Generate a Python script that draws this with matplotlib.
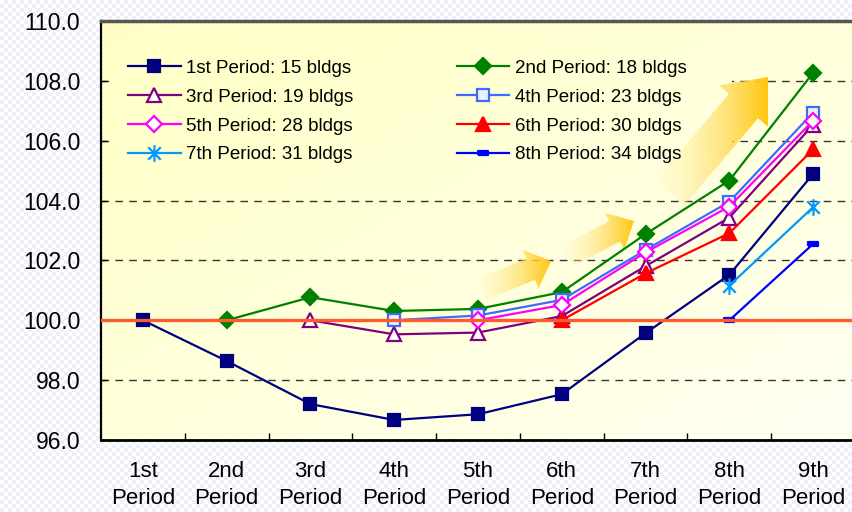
import numpy as np
import matplotlib
matplotlib.use("Agg")
import matplotlib.pyplot as plt
from matplotlib.patches import Polygon, Rectangle
from matplotlib.path import Path

plt.rcParams.update({
    "font.family": ["Liberation Sans", "DejaVu Sans"],
    "font.size": 16,
})

nan = np.nan
periods = ["1st", "2nd", "3rd", "4th", "5th", "6th", "7th", "8th", "9th"]
period_labels = [p + "\nPeriod" for p in periods]

# index values per construction period, 100 = first year of each group
p1 = [100.0, 98.64, 97.20, 96.67, 96.86, 97.53, 99.57, 101.52, 104.89]
p2 = [nan, 100.0, 100.77, 100.31, 100.38, 100.94, 102.88, 104.67, 108.27]
p3 = [nan, nan, 100.0, 99.53, 99.59, 100.14, 101.81, 103.43, 106.53]
p4 = [nan, nan, nan, 100.0, 100.16, 100.68, 102.35, 103.96, 106.94]
p5 = [nan, nan, nan, nan, 100.0, 100.51, 102.27, 103.80, 106.67]
p6 = [nan, nan, nan, nan, nan, 100.0, 101.57, 102.91, 105.71]
p7 = [nan, nan, nan, nan, nan, nan, nan, 101.16, 103.78]
p8 = [nan, nan, nan, nan, nan, nan, nan, 100.0, 102.55]

names = ["1st Period: 15 bldgs", "2nd Period: 18 bldgs", "3rd Period: 19 bldgs",
         "4th Period: 23 bldgs", "5th Period: 28 bldgs", "6th Period: 30 bldgs",
         "7th Period: 31 bldgs", "8th Period: 34 bldgs"]

star = Path([(0, -1), (0, 1), (-0.75, -0.75), (0.75, 0.75), (-0.75, 0.75), (0.75, -0.75)],
            [Path.MOVETO, Path.LINETO, Path.MOVETO, Path.LINETO, Path.MOVETO, Path.LINETO])
dash = Path([(-1, -0.45), (1, -0.45), (1, 0.45), (-1, 0.45), (-1, -0.45)])

styles = [
    dict(color="#000080", marker="s", ms=8, mfc="#000080"),
    dict(color="#008000", marker="D", ms=8.5, mfc="#008000"),
    dict(color="#800080", marker="^", ms=10, mfc="white"),
    dict(color="#3D6BFF", marker="s", ms=8.5, mfc="#EAF2FF"),
    dict(color="#FF00FF", marker="D", ms=8.5, mfc="white"),
    dict(color="#FF0000", marker="^", ms=10, mfc="#FF0000"),
    dict(color="#0099FF", marker=star, ms=12, mfc="none"),
    dict(color="#0000FF", marker=dash, ms=7, mfc="#0000FF"),
]
series = [p1, p2, p3, p4, p5, p6, p7, p8]

W, H = 852, 512
fig = plt.figure(figsize=(W / 100, H / 100), dpi=100)

# faint checkered page background
bg = fig.add_axes([0, 0, 1, 1], zorder=-10)
yy, xx = np.mgrid[0:H // 4, 0:W // 4]
chk = ((xx + yy) % 2)[..., None] * (np.array([0.94, 0.94, 0.98]) - 1) + 1
bg.imshow(chk, extent=(0, 1, 0, 1), aspect="auto", interpolation="nearest")
bg.axis("off")

ax = fig.add_axes([101 / W, (H - 440) / H, 754 / W, 419 / H])
ax.set_facecolor("none")

# pale yellow diagonal gradient for the plot area
gy, gx = np.mgrid[0:1:100j, 0:1:160j]
t = (gx + gy) / 2
top = np.array([1.0, 1.0, 0.77])
bot = np.array([1.0, 1.0, 0.95])
grad = top * (1 - t[..., None]) + bot * t[..., None]
ext = (-0.5, 8.5, 96, 110)
ax.imshow(grad, extent=ext, origin="upper", aspect="auto", zorder=0)

x = np.arange(len(periods))
for vals, name, st in zip(series, names, styles):
    ax.plot(x, vals, lw=1.6, mew=1.6, label=name, zorder=3,
            color=st["color"], marker=st["marker"], ms=st["ms"],
            mfc=st["mfc"], mec=st["color"])

ax.axhline(100, color="#FF5A2E", lw=2.4, zorder=5)

ax.set_xlim(-0.5, 8.5)
ax.set_ylim(96, 110)
ax.set_yticks(np.arange(96, 110.1, 2))
ax.yaxis.set_major_formatter(matplotlib.ticker.FormatStrFormatter("%.1f"))
ax.tick_params(axis="y", direction="in", length=4, width=1, pad=15, labelsize=16.5)
ax.set_xticks(np.arange(0.5, 8, 1))
ax.set_xticklabels([])
ax.set_xticks(x, minor=True)
ax.set_xticklabels(period_labels, minor=True, linespacing=1.4)
ax.tick_params(axis="x", which="major", direction="in", length=5, width=1)
ax.tick_params(axis="x", which="minor", length=0, pad=15, labelsize=16)
ax.set_axisbelow(True)
ax.yaxis.grid(True, color="#333333", lw=1, ls=(0, (5.5, 4.5)))

ax.spines["right"].set_visible(False)
ax.spines["top"].set_color("#555555")
ax.spines["top"].set_linewidth(2.5)
ax.spines["left"].set_linewidth(1.6)
ax.spines["bottom"].set_linewidth(2)

# legend box: same gradient, hides the grid behind the entries
box = Rectangle((0.019, 0.63), 0.818, 0.315, transform=ax.transAxes,
                facecolor="none", edgecolor="none")
ax.add_patch(box)
im2 = ax.imshow(grad, extent=ext, origin="upper", aspect="auto", zorder=1)
im2.set_clip_path(box)

h, l = ax.get_legend_handles_labels()
order = [0, 2, 4, 6, 1, 3, 5, 7]
ax.legend([h[i] for i in order], [l[i] for i in order], ncol=2,
          loc="upper left", bbox_to_anchor=(0.036, 0.908), frameon=False,
          fontsize=13.5, handlelength=2.8, handletextpad=0.3,
          columnspacing=5.5, labelspacing=0.63, borderpad=0, borderaxespad=0)

# gradient arrows, drawn in pixel units of the plot area
ov = ax.inset_axes([0, 0, 1, 1], zorder=1.5)
ov.axis("off")

def arrow(tail, tip, w, hw, hl):
    tail = np.array(tail, float); tip = np.array(tip, float)
    u = (tip - tail) / np.linalg.norm(tip - tail)
    n = np.array([-u[1], u[0]])
    b = tip - hl * u
    pts = [tail + n * w / 2, b + n * w / 2, b + n * hw / 2, tip,
           b - n * hw / 2, b - n * w / 2, tail - n * w / 2]
    poly = Polygon(pts, closed=True, facecolor="none", edgecolor="none")
    ov.add_patch(poly)
    xs = [p[0] for p in pts]; ys = [p[1] for p in pts]
    g = np.linspace(0, 1, 64)
    rgba = np.zeros((1, 64, 4))
    rgba[0, :, 0] = 1.0
    rgba[0, :, 1] = 0.97 - 0.19 * g
    rgba[0, :, 2] = 0.78 - 0.72 * g
    rgba[0, :, 3] = 0.25 + 0.75 * g
    im = ov.imshow(rgba, extent=(min(xs), max(xs), max(ys), min(ys)),
                   aspect="auto", interpolation="bilinear")
    im.set_clip_path(poly)

arrow((482, 289), (551, 261), 23, 42, 22)
arrow((568, 256), (634, 221), 23, 42, 22)
arrow((670, 193), (768, 77), 38, 64, 38)
ov.set_xlim(101, 855)
ov.set_ylim(440, 21)

fig.savefig("out.png", dpi=100)
